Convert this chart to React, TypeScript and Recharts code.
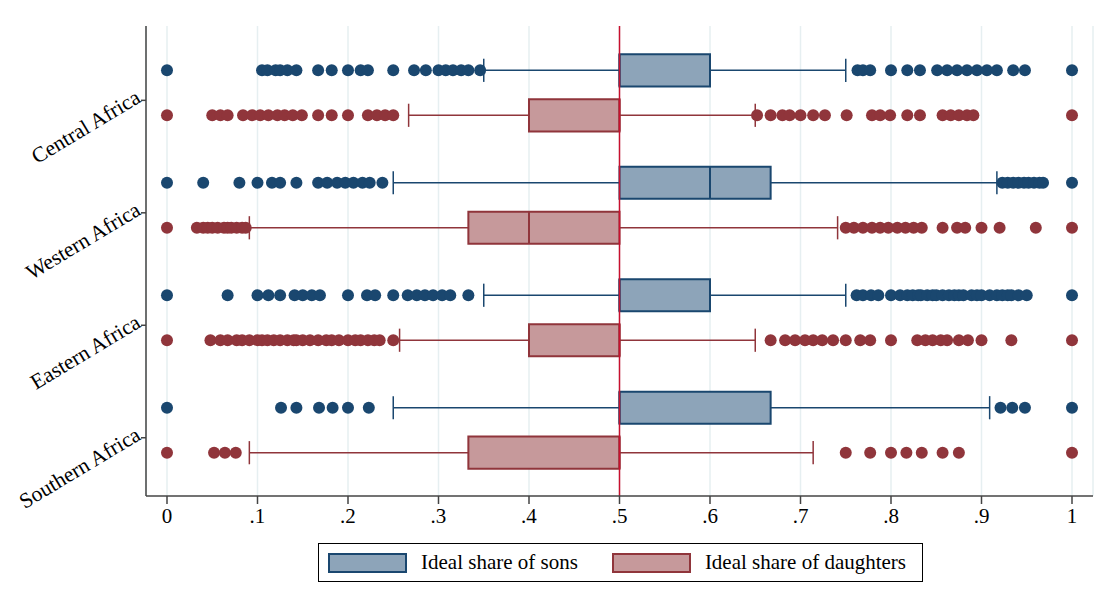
import React from "react";
import {
  ComposedChart,
  Scatter,
  XAxis,
  YAxis,
  CartesianGrid,
  ReferenceArea,
  ReferenceLine,
  Legend,
} from "recharts";

const regions = ["Central Africa", "Western Africa", "Eastern Africa", "Southern Africa"];
const xTicks = [0, 0.1, 0.2, 0.3, 0.4, 0.5, 0.6, 0.7, 0.8, 0.9, 1];

// box plot summaries, one entry per region
const sonsLowerWhisker = [0.35, 0.25, 0.35, 0.25];
const sonsQ1 = [0.5, 0.5, 0.5, 0.5];
const sonsMedian = [0.5, 0.6, 0.5, 0.5];
const sonsQ3 = [0.6, 0.667, 0.6, 0.667];
const sonsUpperWhisker = [0.75, 0.917, 0.75, 0.909];

const daughtersLowerWhisker = [0.267, 0.091, 0.257, 0.091];
const daughtersQ1 = [0.4, 0.333, 0.4, 0.333];
const daughtersMedian = [0.5, 0.4, 0.5, 0.5];
const daughtersQ3 = [0.5, 0.5, 0.5, 0.5];
const daughtersUpperWhisker = [0.65, 0.741, 0.65, 0.714];

const sonsOutliers = [
  [0, 0.105, 0.111, 0.12, 0.125, 0.133, 0.143, 0.167, 0.182, 0.2, 0.214, 0.222, 0.25, 0.273, 0.286, 0.3,
    0.308, 0.316, 0.325, 0.333, 0.346,
    0.763, 0.769, 0.777, 0.8, 0.818, 0.832, 0.851, 0.862, 0.873, 0.884, 0.895, 0.906, 0.917, 0.935, 0.948, 1],
  [0, 0.04, 0.08, 0.1, 0.116, 0.125, 0.143, 0.167, 0.177, 0.188, 0.197, 0.206, 0.216, 0.224, 0.238,
    0.923, 0.929, 0.935, 0.941, 0.947, 0.952, 0.958, 0.964, 0.968, 1],
  [0, 0.067, 0.1, 0.112, 0.125, 0.141, 0.15, 0.16, 0.169, 0.2, 0.221, 0.23, 0.25, 0.266, 0.276, 0.285,
    0.294, 0.304, 0.313, 0.333,
    0.762, 0.769, 0.778, 0.786, 0.8, 0.81, 0.818, 0.824, 0.83, 0.833, 0.84, 0.846, 0.85, 0.857, 0.864,
    0.87, 0.875, 0.88, 0.889, 0.895, 0.9, 0.909, 0.917, 0.923, 0.929, 0.933, 0.941, 0.95, 1],
  [0, 0.126, 0.143, 0.168, 0.183, 0.2, 0.223, 0.921, 0.934, 0.948, 1],
];

const daughtersOutliers = [
  [0, 0.05, 0.059, 0.067, 0.084, 0.094, 0.103, 0.112, 0.122, 0.13, 0.139, 0.149, 0.167, 0.182, 0.2,
    0.222, 0.232, 0.241, 0.25,
    0.652, 0.667, 0.68, 0.688, 0.7, 0.714, 0.727, 0.751, 0.779, 0.788, 0.799, 0.818, 0.832, 0.857, 0.866,
    0.875, 0.884, 0.891, 1],
  [0, 0.033, 0.04, 0.045, 0.05, 0.056, 0.063, 0.067, 0.071, 0.077, 0.083, 0.087,
    0.75, 0.759, 0.769, 0.779, 0.788, 0.797, 0.807, 0.816, 0.825, 0.834, 0.857, 0.873, 0.882, 0.9, 0.92,
    0.96, 1],
  [0, 0.048, 0.059, 0.067, 0.077, 0.083, 0.091, 0.1, 0.105, 0.111, 0.118, 0.125, 0.133, 0.14, 0.143,
    0.15, 0.158, 0.167, 0.176, 0.182, 0.19, 0.2, 0.208, 0.214, 0.222, 0.229, 0.235, 0.25,
    0.667, 0.683, 0.694, 0.705, 0.714, 0.724, 0.736, 0.75, 0.766, 0.777, 0.8, 0.829, 0.838, 0.846, 0.855,
    0.862, 0.875, 0.885, 0.9, 0.933, 1],
  [0, 0.052, 0.064, 0.076, 0.75, 0.777, 0.8, 0.817, 0.834, 0.857, 0.875, 1],
];

const legendItems = [
  { name: "Ideal share of sons", fill: "#8da4b9", stroke: "#1a476f" },
  { name: "Ideal share of daughters", fill: "#c6999b", stroke: "#90353b" },
];

const SONS_COLOR = "#1a476f";
const DAUGHTERS_COLOR = "#90353b";
const SONS_ROW = -0.2;
const DAUGHTERS_ROW = 0.2;
const BOX_HALF = 0.143;
const CAP_HALF = 0.103;
const FONT = "'Liberation Serif', 'Times New Roman', serif";

const toPoints = (rows: number[][], offset: number) =>
  rows.flatMap((vals, i) => vals.map((v) => ({ x: v, y: i + offset })));

const sonsPoints = toPoints(sonsOutliers, SONS_ROW);
const daughtersPoints = toPoints(daughtersOutliers, DAUGHTERS_ROW);

const Dot = (color: string) => (props: any) =>
  <circle cx={props.cx} cy={props.cy} r={6} fill={color} />;

const RegionTick = (props: any) => {
  const { x, y, payload } = props;
  const label = regions[Math.round(payload.value)];
  const ax = x + 3;
  const ay = y + 1;
  return (
    <text
      x={ax}
      y={ay}
      transform={`rotate(-31 ${ax} ${ay})`}
      textAnchor="end"
      fontFamily={FONT}
      fontSize={21.5}
      fill="#000"
    >
      {label}
    </text>
  );
};

const fmtX = (v: number) => (v === 0 ? "0" : v === 1 ? "1" : "." + Math.round(v * 10));

const LegendBox = () => (
  <div
    style={{
      boxSizing: "border-box",
      width: 605,
      height: 39,
      border: "1.5px solid #000",
      background: "#fff",
      display: "flex",
      alignItems: "center",
      fontFamily: FONT,
      fontSize: 21,
      paddingLeft: 9,
    }}
  >
    {legendItems.map((it, k) => (
      <div key={it.name} style={{ display: "flex", alignItems: "center", marginRight: k === 0 ? 34 : 0 }}>
        <span
          style={{
            boxSizing: "border-box",
            display: "inline-block",
            width: 79,
            height: 20,
            background: it.fill,
            border: `2px solid ${it.stroke}`,
            marginRight: 14,
          }}
        />
        <span>{it.name}</span>
      </div>
    ))}
  </div>
);

const renderBoxes = (
  lw: number[], q1: number[], med: number[], q3: number[], uw: number[],
  offset: number, fill: string, stroke: string, key: string
) =>
  regions.flatMap((_, i) => {
    const y = i + offset;
    return [
      <ReferenceLine key={`${key}lw${i}`} segment={[{ x: lw[i], y }, { x: q1[i], y }]} stroke={stroke} strokeWidth={1.5} />,
      <ReferenceLine key={`${key}uw${i}`} segment={[{ x: q3[i], y }, { x: uw[i], y }]} stroke={stroke} strokeWidth={1.5} />,
      <ReferenceLine key={`${key}lc${i}`} segment={[{ x: lw[i], y: y - CAP_HALF }, { x: lw[i], y: y + CAP_HALF }]} stroke={stroke} strokeWidth={1.5} />,
      <ReferenceLine key={`${key}uc${i}`} segment={[{ x: uw[i], y: y - CAP_HALF }, { x: uw[i], y: y + CAP_HALF }]} stroke={stroke} strokeWidth={1.5} />,
      <ReferenceArea key={`${key}bx${i}`} x1={q1[i]} x2={q3[i]} y1={y - BOX_HALF} y2={y + BOX_HALF} fill={fill} fillOpacity={1} stroke={stroke} strokeWidth={2} />,
      <ReferenceLine key={`${key}md${i}`} segment={[{ x: med[i], y: y - BOX_HALF }, { x: med[i], y: y + BOX_HALF }]} stroke={stroke} strokeWidth={2} />,
    ];
  });

export default function App() {
  return (
    <div style={{ position: "absolute", left: 0, top: 0, width: 1103, height: 602, background: "#fff" }}>
      <ComposedChart width={1103} height={602} margin={{ top: 26, right: 10, left: 0, bottom: 37 }}>
        <CartesianGrid horizontal={false} stroke="#e6eff1" strokeWidth={1.5} />
        <XAxis
          type="number"
          dataKey="x"
          domain={[-0.0232, 1.0232]}
          ticks={xTicks}
          tickFormatter={fmtX}
          allowDataOverflow
          height={30}
          tickSize={8}
          tickMargin={4}
          stroke="#444"
          strokeWidth={1.5}
          tick={{ fill: "#000", fontFamily: FONT, fontSize: 21 }}
        />
        <YAxis
          type="number"
          dataKey="y"
          domain={[-0.594, 3.585]}
          reversed
          allowDataOverflow
          ticks={[0.067, 1.067, 2.067, 3.067]}
          tick={<RegionTick />}
          width={146}
          tickSize={5}
          tickMargin={2}
          stroke="#444"
          strokeWidth={1.5}
        />
        {renderBoxes(sonsLowerWhisker, sonsQ1, sonsMedian, sonsQ3, sonsUpperWhisker, SONS_ROW, legendItems[0].fill, SONS_COLOR, "s")}
        {renderBoxes(daughtersLowerWhisker, daughtersQ1, daughtersMedian, daughtersQ3, daughtersUpperWhisker, DAUGHTERS_ROW, legendItems[1].fill, DAUGHTERS_COLOR, "d")}
        <Scatter name="sons" data={sonsPoints} shape={Dot(SONS_COLOR)} isAnimationActive={false} legendType="none" />
        <Scatter name="daughters" data={daughtersPoints} shape={Dot(DAUGHTERS_COLOR)} isAnimationActive={false} legendType="none" />
        <ReferenceLine x={0.5} stroke="#c8102e" strokeWidth={1.5} />
        <Legend
          content={<LegendBox />}
          wrapperStyle={{ position: "absolute", left: 318, top: 543, width: 605, height: 39 }}
        />
      </ComposedChart>
    </div>
  );
}
